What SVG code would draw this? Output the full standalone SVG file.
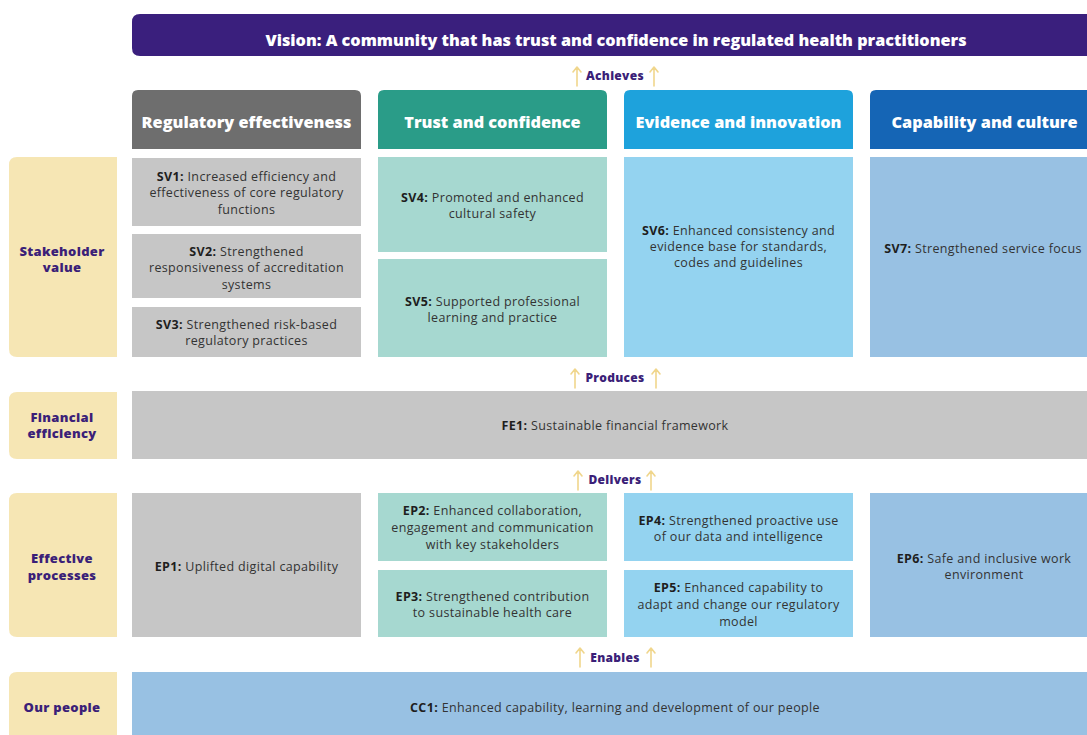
<svg xmlns="http://www.w3.org/2000/svg" width="1087" height="735" viewBox="0 0 1087 735">
<defs>
<style>
.bg{fill:#ffffff}
.lbl{fill:#f6e6b4}
.lt{font-family:"Open Sans","Liberation Sans",sans-serif;font-weight:800;font-size:13px;letter-spacing:0.3px;fill:#3b1f78;text-anchor:middle}
.hd{font-family:"Open Sans","Liberation Sans",sans-serif;font-weight:800;font-size:16.3px;fill:#ffffff;text-anchor:middle}
.tt{font-family:"Open Sans","Liberation Sans",sans-serif;font-weight:800;font-size:16.2px;fill:#ffffff;text-anchor:middle}
.bt{font-family:"Open Sans","Liberation Sans",sans-serif;font-size:12.5px;letter-spacing:0.35px;fill:#333333;text-anchor:middle}
.bt tspan.b{font-weight:700;fill:#1e1e1e}
.ar{font-family:"Open Sans","Liberation Sans",sans-serif;font-weight:800;font-size:12px;letter-spacing:0.3px;fill:#3b1f78;text-anchor:middle}
.arw{fill:none;stroke:#f0d68c;stroke-width:1.6;stroke-linecap:round;stroke-linejoin:round}
.gH{fill:#6e6e6e}.gL{fill:#c6c6c6}
.tH{fill:#2a9c88}.tL{fill:#a6d8d0}
.eH{fill:#1ea2dc}.eL{fill:#94d3f0}
.cH{fill:#1565b5}.cL{fill:#98c1e3}
</style>
</defs>
<rect class="bg" x="0" y="0" width="1087" height="735"/>

<g id="vision">
<path d="M140,14 H1099 V56 H140 Q132,56 132,48 V22 Q132,14 140,14 Z" fill="#3a1f7d"/>
<text class="tt" x="616" y="45.5">Vision: A community that has trust and confidence in regulated health practitioners</text>
</g>

<g id="connectors">
<path class="arw" d="M577,86 V68 M573,72 L577,67 L581,72 M654,86 V68 M650,72 L654,67 L658,72"/>
<path class="arw" d="M575,388 V370 M571,374 L575,369 L579,374 M656,388 V370 M652,374 L656,369 L660,374"/>
<path class="arw" d="M578,490 V472 M574,476 L578,471 L582,476 M651,490 V472 M647,476 L651,471 L655,476"/>
<path class="arw" d="M580,667 V649 M576,653 L580,648 L584,653 M651,667 V649 M647,653 L651,648 L655,653"/>
<text class="ar" x="615" y="80">Achieves</text>
<text class="ar" x="615" y="382">Produces</text>
<text class="ar" x="615" y="484">Delivers</text>
<text class="ar" x="615" y="662">Enables</text>
</g>

<g id="header-regulatory">
<path class="gH" d="M138,90 H355 Q361,90 361,96 V149 H132 V96 Q132,90 138,90 Z"/>
<text class="hd" x="246.5" y="127.5">Regulatory effectiveness</text>
</g>
<g id="header-trust">
<path class="tH" d="M384,90 H601 Q607,90 607,96 V149 H378 V96 Q378,90 384,90 Z"/>
<text class="hd" x="492.5" y="127.5">Trust and confidence</text>
</g>
<g id="header-evidence">
<path class="eH" d="M630,90 H847 Q853,90 853,96 V149 H624 V96 Q624,90 630,90 Z"/>
<text class="hd" x="738.5" y="127.5">Evidence and innovation</text>
</g>
<g id="header-capability">
<path class="cH" d="M876,90 H1093 Q1099,90 1099,96 V149 H870 V96 Q870,90 876,90 Z"/>
<text class="hd" x="984.5" y="127.5">Capability and culture</text>
</g>

<g id="label-stakeholder">
<path class="lbl" d="M117,157 V357 H17 Q9,357 9,349 V165 Q9,157 17,157 Z"/>
<text class="lt" x="62" y="256">Stakeholder</text>
<text class="lt" x="62" y="272">value</text>
</g>
<g id="label-financial">
<path class="lbl" d="M117,392 V459 H17 Q9,459 9,451 V400 Q9,392 17,392 Z"/>
<text class="lt" x="62" y="422">Financial</text>
<text class="lt" x="62" y="438">efficiency</text>
</g>
<g id="label-processes">
<path class="lbl" d="M117,493 V637 H17 Q9,637 9,629 V501 Q9,493 17,493 Z"/>
<text class="lt" x="62" y="563">Effective</text>
<text class="lt" x="62" y="580">processes</text>
</g>
<g id="label-people">
<path class="lbl" d="M117,672 V735 H9 V680 Q9,672 17,672 Z"/>
<text class="lt" x="62" y="712">Our people</text>
</g>

<g id="SV1">
<rect class="gL" x="132" y="158" width="229" height="68"/>
<text class="bt" x="246.5" y="181"><tspan class="b">SV1:</tspan> Increased efficiency and</text>
<text class="bt" x="246.5" y="197">effectiveness of core regulatory</text>
<text class="bt" x="246.5" y="214">functions</text>
</g>
<g id="SV2">
<rect class="gL" x="132" y="234" width="229" height="64"/>
<text class="bt" x="246.5" y="256"><tspan class="b">SV2:</tspan> Strengthened</text>
<text class="bt" x="246.5" y="272">responsiveness of accreditation</text>
<text class="bt" x="246.5" y="289">systems</text>
</g>
<g id="SV3">
<rect class="gL" x="132" y="307" width="229" height="50"/>
<text class="bt" x="246.5" y="329"><tspan class="b">SV3:</tspan> Strengthened risk-based</text>
<text class="bt" x="246.5" y="345">regulatory practices</text>
</g>
<g id="SV4">
<rect class="tL" x="378" y="157" width="229" height="95"/>
<text class="bt" x="492.5" y="202"><tspan class="b">SV4:</tspan> Promoted and enhanced</text>
<text class="bt" x="492.5" y="218">cultural safety</text>
</g>
<g id="SV5">
<rect class="tL" x="378" y="259" width="229" height="98"/>
<text class="bt" x="492.5" y="306"><tspan class="b">SV5:</tspan> Supported professional</text>
<text class="bt" x="492.5" y="322">learning and practice</text>
</g>
<g id="SV6">
<rect class="eL" x="624" y="157" width="229" height="200"/>
<text class="bt" x="738.5" y="235"><tspan class="b">SV6:</tspan> Enhanced consistency and</text>
<text class="bt" x="738.5" y="251">evidence base for standards,</text>
<text class="bt" x="738.5" y="267">codes and guidelines</text>
</g>
<g id="SV7">
<rect class="cL" x="870" y="157" width="229" height="200"/>
<text class="bt" x="983" y="253"><tspan class="b">SV7:</tspan> Strengthened service focus</text>
</g>

<g id="FE1">
<rect class="gL" x="132" y="391" width="967" height="68"/>
<text class="bt" x="615" y="430"><tspan class="b">FE1:</tspan> Sustainable financial framework</text>
</g>

<g id="EP1">
<rect class="gL" x="132" y="493" width="229" height="144"/>
<text class="bt" x="246.5" y="571"><tspan class="b">EP1:</tspan> Uplifted digital capability</text>
</g>
<g id="EP2">
<rect class="tL" x="378" y="493" width="229" height="68"/>
<text class="bt" x="492.5" y="515"><tspan class="b">EP2:</tspan> Enhanced collaboration,</text>
<text class="bt" x="492.5" y="532">engagement and communication</text>
<text class="bt" x="492.5" y="549">with key stakeholders</text>
</g>
<g id="EP3">
<rect class="tL" x="378" y="570" width="229" height="67"/>
<text class="bt" x="492.5" y="601"><tspan class="b">EP3:</tspan> Strengthened contribution</text>
<text class="bt" x="492.5" y="617">to sustainable health care</text>
</g>
<g id="EP4">
<rect class="eL" x="624" y="493" width="229" height="68"/>
<text class="bt" x="738.5" y="525"><tspan class="b">EP4:</tspan> Strengthened proactive use</text>
<text class="bt" x="738.5" y="541">of our data and intelligence</text>
</g>
<g id="EP5">
<rect class="eL" x="624" y="570" width="229" height="67"/>
<text class="bt" x="738.5" y="592"><tspan class="b">EP5:</tspan> Enhanced capability to</text>
<text class="bt" x="738.5" y="609">adapt and change our regulatory</text>
<text class="bt" x="738.5" y="626">model</text>
</g>
<g id="EP6">
<rect class="cL" x="870" y="493" width="229" height="144"/>
<text class="bt" x="984" y="563"><tspan class="b">EP6:</tspan> Safe and inclusive work</text>
<text class="bt" x="984" y="579">environment</text>
</g>

<g id="CC1">
<rect class="cL" x="132" y="672" width="967" height="63"/>
<text class="bt" x="615" y="712"><tspan class="b">CC1:</tspan> Enhanced capability, learning and development of our people</text>
</g>
</svg>
